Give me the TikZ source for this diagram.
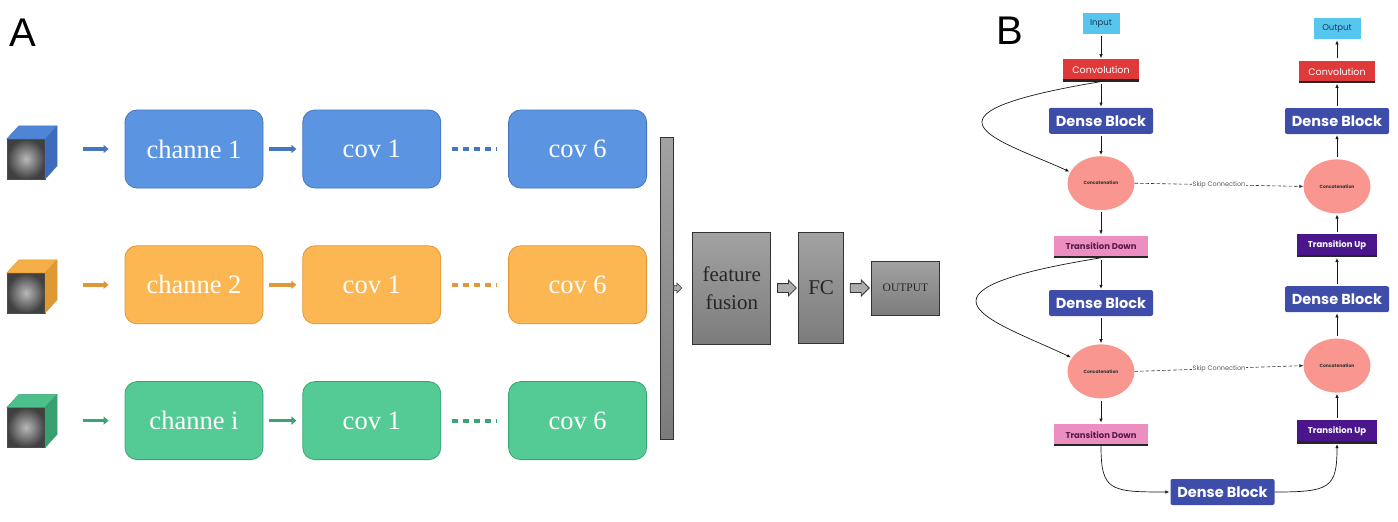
\documentclass[tikz,border=0pt]{standalone}
\usepackage{fontspec}
\setmainfont{Liberation Serif}
\newfontfamily\labfont{Liberation Sans}
\newfontfamily\popfont{Poppins}
\usepackage{xcolor}
\usepackage{tikz}
\usetikzlibrary{shapes, shapes.geometric, shapes.arrows}
\usetikzlibrary{positioning, arrows.meta, calc}

\definecolor{blueF}{RGB}{91,149,226}
\definecolor{blueD}{RGB}{70,118,190}
\definecolor{blueT}{RGB}{80,132,214}
\definecolor{blueS}{RGB}{62,108,186}
\definecolor{orangeF}{RGB}{253,183,82}
\definecolor{orangeD}{RGB}{222,152,58}
\definecolor{orangeT}{RGB}{246,175,70}
\definecolor{orangeS}{RGB}{222,152,52}
\definecolor{greenF}{RGB}{84,202,149}
\definecolor{greenD}{RGB}{58,165,115}
\definecolor{greenT}{RGB}{76,192,138}
\definecolor{greenS}{RGB}{56,160,112}
\definecolor{grayTop}{RGB}{162,162,162}
\definecolor{grayBot}{RGB}{124,124,124}
\definecolor{cyanB}{RGB}{86,198,239}
\definecolor{redB}{RGB}{224,57,58}
\definecolor{indB}{RGB}{63,77,170}
\definecolor{salB}{RGB}{248,150,143}
\definecolor{pinkB}{RGB}{236,143,192}
\definecolor{purpB}{RGB}{75,22,140}
\definecolor{navyT}{RGB}{30,55,90}
\definecolor{plumT}{RGB}{85,25,75}

\begin{document}
\begin{tikzpicture}[x=1pt, y=-1pt,
	box/.style={draw=#1D, fill=#1F, rounded corners=12pt, line width=0.8pt, minimum width=138pt, minimum height=78pt, inner sep=0pt, text=white, font=\fontsize{26.5}{28}\selectfont},
	imgface/.style={minimum width=38pt, minimum height=40pt, inner sep=0pt, draw=black!70, line width=0.3pt, inner color=gray!55, outer color=black!75},
	rowarrow/.style={draw=#1D, line width=3.5pt, -{Triangle[length=5pt, width=8pt]}},
	dashline/.style={draw=#1D, line width=4pt, dash pattern=on 6pt off 5pt},
	graybox/.style={draw=black!80, line width=0.8pt, top color=grayTop, bottom color=grayBot, inner sep=0pt, text=black!85},
	grayarrow/.style={single arrow, draw=black!80, fill=gray!65, line width=0.8pt, minimum height=19pt, inner xsep=0pt, inner ysep=4pt, single arrow head extend=3.5pt},
	biglab/.style={inner sep=0pt, font=\labfont\fontsize{40}{40}\selectfont},
	bbox/.style={inner sep=0pt, font=\popfont\fontsize{9.5}{11}\selectfont},
	uline/.style={path picture={\draw[line width=4pt, black!85] (path picture bounding box.south west) -- (path picture bounding box.south east);}},
	inbox/.style={bbox, fill=cyanB, minimum height=21pt, text=navyT, font=\popfont\fontsize{8.5}{10}\selectfont},
	convbox/.style={bbox, uline, fill=redB, minimum width=76pt, minimum height=22pt, text=white},
	dense/.style={bbox, fill=indB, rounded corners=2pt, minimum width=104pt, minimum height=26pt, text=white, font=\popfont\bfseries\fontsize{14.5}{16}\selectfont},
	cat/.style={ellipse, fill=salB, minimum width=67pt, minimum height=54pt, inner sep=0pt, text=black!80, font=\popfont\bfseries\fontsize{4.5}{5}\selectfont},
	tdown/.style={bbox, uline, fill=pinkB, minimum width=94pt, minimum height=22pt, text=plumT, font=\popfont\bfseries\fontsize{8.5}{10}\selectfont},
	tup/.style={bbox, uline, fill=purpB, minimum width=80pt, minimum height=23pt, text=white, font=\popfont\bfseries\fontsize{8.5}{10}\selectfont},
	flow/.style={line width=0.7pt, black!90, shorten <=2pt, shorten >=1pt, -{Latex[length=4pt, width=3.5pt]}},
	skip/.style={line width=0.6pt, black!80, dash pattern=on 3.5pt off 2pt, -{Latex[length=4pt, width=3.5pt]}}]
	\path[use as bounding box, fill=white] (0,0) rectangle (1398,522);

	\node[biglab] (labA) at (22.5,32.5) {A};
	\node[biglab] (labB) at (1009.5,30.5) {B};

	\node[box=blue] (ch1) at (194,149) {channe 1};
	\node[box=blue, right=39pt of ch1] (cv11) {cov 1};
	\node[box=blue, right=67pt of cv11] (cv61) {cov 6};
	\node[box=orange, below=57pt of ch1] (ch2) {channe 2};
	\node[box=orange, right=39pt of ch2] (cv12) {cov 1};
	\node[box=orange, right=67pt of cv12] (cv62) {cov 6};
	\node[box=green, below=57pt of ch2] (ch3) {channe i};
	\node[box=green, right=39pt of ch3] (cv13) {cov 1};
	\node[box=green, right=67pt of cv13] (cv63) {cov 6};

	\node[imgface] (img1) at (26,159) {};
	\draw[fill=blueT, draw=blueD, line width=0.4pt] (img1.north west) -- ++(12,-13) -- ++(38,0) -- (img1.north east) -- cycle;
	\draw[fill=blueS, draw=blueD, line width=0.4pt] (img1.north east) -- ++(12,-13) -- ++(0,40) -- (img1.south east) -- cycle;
	\node[imgface] (img2) at (26,293) {};
	\draw[fill=orangeT, draw=orangeD, line width=0.4pt] (img2.north west) -- ++(12,-13) -- ++(38,0) -- (img2.north east) -- cycle;
	\draw[fill=orangeS, draw=orangeD, line width=0.4pt] (img2.north east) -- ++(12,-13) -- ++(0,40) -- (img2.south east) -- cycle;
	\node[imgface] (img3) at (26,427.5) {};
	\draw[fill=greenT, draw=greenD, line width=0.4pt] (img3.north west) -- ++(12,-13) -- ++(38,0) -- (img3.north east) -- cycle;
	\draw[fill=greenS, draw=greenD, line width=0.4pt] (img3.north east) -- ++(12,-13) -- ++(0,40) -- (img3.south east) -- cycle;

	\draw[rowarrow=blue, shorten <=38pt, shorten >=16pt] (img1.east |- ch1) -- (ch1.west);
	\draw[rowarrow=orange, shorten <=38pt, shorten >=16pt] (img2.east |- ch2) -- (ch2.west);
	\draw[rowarrow=green, shorten <=38pt, shorten >=16pt] (img3.east |- ch3) -- (ch3.west);
	\draw[rowarrow=blue, shorten <=6pt, shorten >=6pt] (ch1) -- (cv11);
	\draw[rowarrow=orange, shorten <=6pt, shorten >=6pt] (ch2) -- (cv12);
	\draw[rowarrow=green, shorten <=6pt, shorten >=6pt] (ch3) -- (cv13);
	\draw[dashline=blue, shorten <=11pt, shorten >=11pt] (cv11) -- (cv61);
	\draw[dashline=orange, shorten <=11pt, shorten >=11pt] (cv12) -- (cv62);
	\draw[dashline=green, shorten <=11pt, shorten >=11pt] (cv13) -- (cv63);

	\node[graybox, minimum width=13pt, minimum height=302pt] (bar) at (666.5,288) {};
	\node[single arrow, draw=black!80, fill=gray!65, line width=0.6pt, minimum height=8pt, inner xsep=0pt, inner ysep=2pt, single arrow head extend=2.5pt, right=0pt of bar] (barhead) {};
	\node[graybox, right=19pt of bar, minimum width=78pt, minimum height=112pt, align=center, font=\fontsize{21}{28}\selectfont] (fuse) {feature\\fusion};
	\node[graybox, right=27pt of fuse, minimum width=45pt, minimum height=111pt, font=\fontsize{21}{24}\selectfont] (fc) {FC};
	\node[graybox, right=27pt of fc, minimum width=68pt, minimum height=54pt, font=\fontsize{11.5}{13}\selectfont] (out) {OUTPUT};
	\node[grayarrow] (ga1) at ($(fuse.east)!0.5!(fc.west)$) {};
	\node[grayarrow] (ga2) at ($(fc.east)!0.5!(out.west)$) {};

	\node[inbox, minimum width=37pt] (input) at (1101,23.5) {Input};
	\node[convbox, below=25pt of input] (convL) {Convolution};
	\node[dense, below=26pt of convL] (dbL1) {Dense Block};
	\node[cat, below=22pt of dbL1] (catL1) {Concatenation};
	\node[tdown, below=25pt of catL1] (tdL1) {Transition Down};
	\node[dense, below=32pt of tdL1] (dbL2) {Dense Block};
	\node[cat, below=28pt of dbL2] (catL2) {Concatenation};
	\node[tdown, below=25pt of catL2] (tdL2) {Transition Down};
	\node[dense] (dbBot) at (1222.5,492) {Dense Block};
	\node[tup] (tuR2) at (1337,431.5) {Transition Up};
	\node[cat, above=27pt of tuR2] (catR2) {Concatenation};
	\node[dense, above=26pt of catR2] (dbR2) {Dense Block};
	\node[tup, above=29pt of dbR2] (tuR1) {Transition Up};
	\node[cat, above=20pt of tuR1] (catR1) {Concatenation};
	\node[dense, above=25pt of catR1] (dbR1) {Dense Block};
	\node[convbox, above=25pt of dbR1] (convR) {Convolution};
	\node[inbox, minimum width=47pt, above=21pt of convR] (output) {Output};

	\draw[flow] (input) -- (convL);
	\draw[flow] (convL) -- (dbL1);
	\draw[flow] (dbL1) -- (catL1);
	\draw[flow] (catL1) -- (tdL1);
	\draw[flow] (tdL1) -- (dbL2);
	\draw[flow] (dbL2) -- (catL2);
	\draw[flow] (catL2) -- (tdL2);
	\draw[flow] (tuR2) -- (catR2);
	\draw[flow] (catR2) -- (dbR2);
	\draw[flow] (dbR2) -- (tuR1);
	\draw[flow] (tuR1) -- (catR1);
	\draw[flow] (catR1) -- (dbR1);
	\draw[flow] (dbR1) -- (convR);
	\draw[flow] (convR) -- (output);
	\draw[flow, shorten <=0pt] (convL.south) .. controls (900,115) and (1000,140) .. (catL1.160);
	\draw[flow, shorten <=0pt] (tdL1.south) .. controls (890,292) and (994,321) .. (catL2.155);
	\draw[flow, shorten <=0pt] (tdL2.south) .. controls +(0,45) and +(-60,0) .. (dbBot.west);
	\draw[flow, shorten <=0pt] (dbBot.east) .. controls +(55,0) and +(0,45) .. (tuR2.south);
	\draw[skip] (catL1.east) -- node[fill=white, inner sep=0.5pt, text=black!65, font=\popfont\fontsize{6.5}{7}\selectfont] {Skip Connection} (catR1.west);
	\draw[skip] (catL2.east) -- node[fill=white, inner sep=0.5pt, text=black!65, font=\popfont\fontsize{6.5}{7}\selectfont] {Skip Connection} (catR2.west);
\end{tikzpicture}
\end{document}
